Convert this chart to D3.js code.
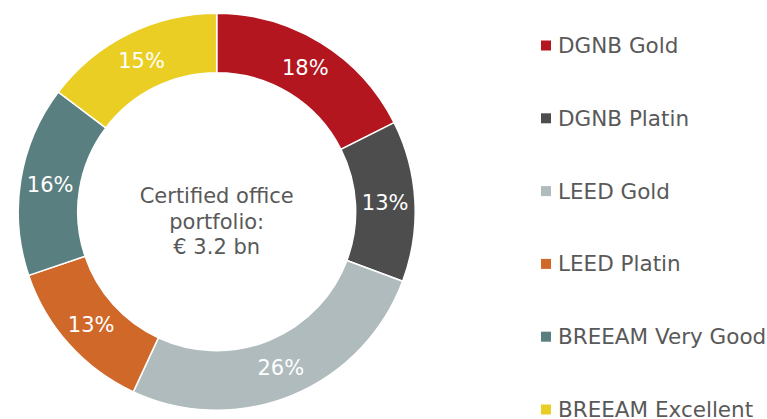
<!DOCTYPE html>
<html>
<head>
<meta charset="utf-8">
<script src="https://cdn.jsdelivr.net/npm/d3@7"></script>
<style>
  body { margin: 0; background: #fff; }
  text { font-family: "DejaVu Sans", Verdana, sans-serif; }
</style>
</head>
<body>
<div id="chart"></div>
<script>
// certification categories and their share of the portfolio (%)
var categories = ["DGNB Gold", "DGNB Platin", "LEED Gold", "LEED Platin", "BREEAM Very Good", "BREEAM Excellent"];
var shares = [17.6, 13.1, 26.2, 12.9, 15.5, 14.7];
var colors = ["#b3161f", "#4d4d4d", "#b0bbbe", "#d0682a", "#5a7f80", "#ebce24"];
var centerLines = ["Certified office", "portfolio:", "\u20ac 3.2 bn"];

var width = 767, height = 419;
var cx = 216.7, cy = 211.7;
var outerR = 198.5, innerR = 139;

var svg = d3.select("#chart")
  .append("svg")
  .attr("width", width)
  .attr("height", height);

var data = categories.map(function(c, i) {
  return { name: c, value: shares[i], color: colors[i] };
});

var pie = d3.pie()
  .sort(null)
  .value(function(d) { return d.value; });

var arc = d3.arc()
  .innerRadius(innerR)
  .outerRadius(outerR);

var labelArc = d3.arc()
  .innerRadius((innerR + outerR) / 2)
  .outerRadius((innerR + outerR) / 2);

var g = svg.append("g")
  .attr("transform", "translate(" + cx + "," + cy + ")");

var arcs = pie(data);

// slices
g.selectAll("path")
  .data(arcs)
  .enter()
  .append("path")
    .attr("d", arc)
    .attr("fill", function(d) { return d.data.color; })
    .attr("stroke", "#fff")
    .attr("stroke-width", 1.5);

// percent labels
g.selectAll("text.pct")
  .data(arcs)
  .enter()
  .append("text")
    .attr("class", "pct")
    .attr("transform", function(d) { return "translate(" + labelArc.centroid(d) + ")"; })
    .attr("text-anchor", "middle")
    .attr("dy", "0.35em")
    .attr("fill", "#fff")
    .style("font-size", "21px")
    .text(function(d) { return Math.round(d.data.value) + "%"; });

// centre text
g.selectAll("text.center")
  .data(centerLines)
  .enter()
  .append("text")
    .attr("class", "center")
    .attr("text-anchor", "middle")
    .attr("y", function(d, i) { return -8.5 + i * 25.5; })
    .attr("fill", "#595959")
    .style("font-size", "21px")
    .text(function(d) { return d; });

// legend
var y = d3.scalePoint()
  .domain(categories)
  .range([45.5, 409.5]);

var legend = svg.selectAll("g.legend")
  .data(data)
  .enter()
  .append("g")
    .attr("class", "legend")
    .attr("transform", function(d) { return "translate(541," + y(d.name) + ")"; });

legend.append("rect")
  .attr("x", 0)
  .attr("y", -5)
  .attr("width", 10)
  .attr("height", 10)
  .attr("fill", function(d) { return d.color; });

legend.append("text")
  .attr("x", 17)
  .attr("dy", "0.35em")
  .attr("fill", "#595959")
  .style("font-size", "21.5px")
  .text(function(d) { return d.name; });
</script>
</body>
</html>
